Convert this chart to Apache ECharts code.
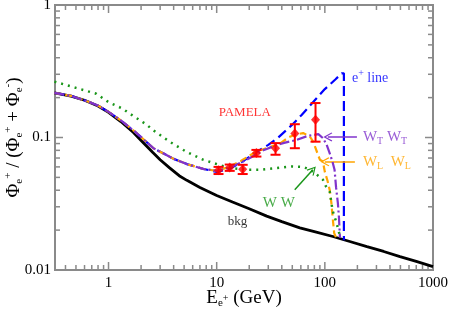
<!DOCTYPE html>
<html><head><meta charset="utf-8">
<script src="https://cdn.jsdelivr.net/npm/echarts@6/dist/echarts.min.js"></script>
<style>html,body{margin:0;padding:0;background:#fff}#c{width:450px;height:310px}</style>
</head><body><div id="c"></div>
<script>
// ---- data ----
const xMajor = [1, 10, 100, 1000];
const xMinor = [0.4,0.5,0.6,0.7,0.8,0.9,2,3,4,5,6,7,8,9,20,30,40,50,60,70,80,90,200,300,400,500,600,700,800,900];
const yMajor = [0.01, 0.1, 1];
const yMinor = [0.02,0.03,0.04,0.05,0.06,0.07,0.08,0.09,0.2,0.3,0.4,0.5,0.6,0.7,0.8,0.9];

const bkgE = [0.316,0.45,0.6,0.8,1.0,1.3,1.7,2.0,2.57,3.0,3.67,4.5,5.3,7,10,14,20,29,40,58.7,80,118.6,170,245,350,495,700,1000];
const bkgF = [0.217,0.205,0.191,0.173,0.155,0.132,0.109,0.095,0.077,0.068,0.059,0.0515,0.0475,0.042,0.0365,0.0326,0.0290,0.0255,0.0232,0.0208,0.0195,0.0179,0.0164,0.0150,0.0138,0.0126,0.0116,0.0106];

const lowE = [0.316,0.45,0.643,0.8,1.0,1.31,1.7,1.94,2.6,3.3,4,5.3,7.5];
const lowF = [0.217,0.206,0.187,0.174,0.156,0.134,0.113,0.103,0.083,0.075,0.069,0.063,0.058];

const blueE = [10,13.2,17.4,23.5,30,36.6,50,61,77,100,125,143,150,150];
const blueF = [0.055,0.058,0.066,0.078,0.088,0.099,0.125,0.148,0.183,0.232,0.274,0.305,0.305,0.0168];

const orangeE = [10,13,17,23,30,38.5,46,53,63,72.5,78,86,90,96,100,106,111,115,118,122,127];
const orangeF = [0.056,0.060,0.067,0.078,0.084,0.090,0.100,0.105,0.108,0.102,0.093,0.075,0.068,0.066,0.055,0.047,0.040,0.032,0.025,0.019,0.0176];

const purpleE = [10,13,17,23,27,35,42,55,70,87,96,104,111,118,123,127,132,135,138];
const purpleF = [0.056,0.059,0.065,0.074,0.080,0.087,0.091,0.096,0.103,0.106,0.099,0.088,0.076,0.065,0.057,0.042,0.032,0.025,0.0175];

const wwE = [0.316,0.5,0.77,1.0,1.35,1.56,2.25,2.57,3.67,5.25,7.5,10.6,13,20,25,30,50,63,70,81,96,102,111,118,128,138];
const wwF = [0.264,0.237,0.214,0.185,0.165,0.152,0.125,0.114,0.093,0.078,0.068,0.062,0.059,0.057,0.057,0.058,0.0605,0.060,0.058,0.054,0.048,0.043,0.039,0.028,0.0228,0.018];

const pamE  = [10.4,13.2,17.4,23.3,35,52.8,82];
const pamF  = [0.0565,0.0595,0.0575,0.0765,0.083,0.107,0.136];
const pamLo = [0.053,0.056,0.053,0.0718,0.0741,0.083,0.093];
const pamHi = [0.060,0.0625,0.0622,0.0806,0.0907,0.126,0.182];

// ---- styling ----
const FONT = 'Liberation Serif';
const AX = '#8a8a8a';
const XMIN = 0.32, XMAX = 1000, YMIN = 0.01, YMAX = 1;
const C = {blue:'#0000ff', orange:'#ffa500', purple:'#8033cc', green:'#1a961a', red:'#ff0000', black:'#000'};
const fmt = v => String(+(+v).toPrecision(3));

const xAxis = {type:'log', logBase:10, min:XMIN, max:XMAX, position:'bottom',
  axisLine:{show:false, onZero:false}, axisTick:{show:false},
  axisLabel:{show:true, customValues:xMajor, formatter:fmt, fontFamily:FONT, fontSize:15, color:'#000', margin:6},
  splitLine:{show:false}, minorTick:{show:false},
  name:'{E|E}{s|e}{u|+}{t| (GeV)}', nameLocation:'middle', nameGap:17, nameMoveOverlap:false,
  nameTextStyle:{fontFamily:FONT, color:'#000', rich:{
    E:{fontFamily:FONT, fontSize:19, lineHeight:22, verticalAlign:'middle'},
    s:{fontFamily:FONT, fontSize:11, lineHeight:10, verticalAlign:'bottom'},
    u:{fontFamily:FONT, fontSize:10, lineHeight:10, verticalAlign:'middle'},
    t:{fontFamily:FONT, fontSize:19, lineHeight:22, verticalAlign:'middle'}}}};
const yAxis = {type:'log', logBase:10, min:YMIN, max:YMAX, position:'left',
  axisLine:{show:false, onZero:false}, axisTick:{show:false},
  axisLabel:{show:true, customValues:yMajor, formatter:fmt, fontFamily:FONT, fontSize:15, color:'#000', margin:4},
  splitLine:{show:false}, minorTick:{show:false},
  name:'{p|Φ}{s|e}{u|+}{t| / (}{p|Φ}{s|e}{u|+}{t| + }{p|Φ}{s|e}{u|-}{t|)}',
  nameLocation:'middle', nameRotate:90, nameGap:30, nameMoveOverlap:false,
  nameTextStyle:{fontFamily:FONT, color:'#000', rich:{
    p:{fontFamily:FONT, fontSize:19, lineHeight:22, verticalAlign:'middle'},
    s:{fontFamily:FONT, fontSize:11, lineHeight:10, verticalAlign:'bottom'},
    u:{fontFamily:FONT, fontSize:11, lineHeight:10, verticalAlign:'top'},
    t:{fontFamily:FONT, fontSize:19, lineHeight:22, verticalAlign:'middle'}}}};

const zip = (a,b) => a.map((v,i)=>[v,b[i]]);
function line(name, data, color, width, dash, z) {
  return {type:'line', name, data, showSymbol:false, symbol:'none', smooth:false, z,
    lineStyle:{color, width, type:dash, cap:'butt'}, silent:true, animation:false};
}
const chev = 'path://M0,0L-8,10L-6.5,11L0,3L6.5,11L8,10Z';
const sub = {fontFamily:FONT, fontSize:10, lineHeight:8, verticalAlign:'bottom'};
const sup = {fontFamily:FONT, fontSize:10, lineHeight:8, verticalAlign:'top'};
function note(coord, text, color, size, pos) {
  return {value:coord, label:{show:true, position:pos, distance:0, formatter:text, color,
    fontFamily:FONT, fontSize:size,
    rich:{m:{fontFamily:FONT, fontSize:size, lineHeight:size+4, color, verticalAlign:'middle'}, b:Object.assign({color}, sub), a:Object.assign({color}, sup)}}};
}
const tickStyle = {stroke:AX, lineWidth:1.5};

const option = {
  animation:false,
  grid:{left:55, right:17, top:5, bottom:40, containLabel:false, outerBoundsMode:'none',
        show:true, borderColor:AX, borderWidth:2, backgroundColor:'transparent'},
  xAxis, yAxis,
  series:[
    {type:'custom', name:'xticks', clip:false, silent:true, z:1,
      data: xMajor.map(v=>[v, YMIN, 8]).concat(xMinor.map(v=>[v, YMIN, 5])),
      encode:{x:0, y:1},
      renderItem(params, api) {
        const v = api.value(0), len = api.value(2);
        const b = api.coord([v, YMIN]), t = api.coord([v, YMAX]);
        return {type:'group', children:[
          {type:'line', shape:{x1:b[0], y1:b[1], x2:b[0], y2:b[1]-len}, style:tickStyle},
          {type:'line', shape:{x1:t[0], y1:t[1], x2:t[0], y2:t[1]+len}, style:tickStyle}]};
      }},
    {type:'custom', name:'yticks', clip:false, silent:true, z:1,
      data: yMajor.map(v=>[XMIN, v, 8]).concat(yMinor.map(v=>[XMIN, v, 5])),
      encode:{x:0, y:1},
      renderItem(params, api) {
        const v = api.value(1), len = api.value(2);
        const l = api.coord([XMIN, v]), r = api.coord([XMAX, v]);
        return {type:'group', children:[
          {type:'line', shape:{x1:l[0], y1:l[1], x2:l[0]+len, y2:l[1]}, style:tickStyle},
          {type:'line', shape:{x1:r[0], y1:r[1], x2:r[0]-len, y2:r[1]}, style:tickStyle}]};
      }},
    line('bkg', zip(bkgE,bkgF), C.black, 2.8, 'solid', 2),
    line('eline', zip(lowE,lowF).concat(zip(blueE,blueF)), C.blue, 2.2, [10,5], 3),
    line('WLWL', zip(lowE,lowF).concat(zip(orangeE,orangeF)), C.orange, 2.2, [7,4], 4),
    line('WTWT', zip(lowE,lowF).concat(zip(purpleE,purpleF)), C.purple, 2.2, [10,3,2,3], 5),
    line('WW', zip(wwE,wwF), C.green, 2.5, [2,5], 6),
    {type:'custom', name:'pamErr', z:8, silent:true,
      data: pamE.map((e,i)=>[e, pamLo[i], pamHi[i]]),
      encode:{x:0, y:[1,2]},
      renderItem(params, api) {
        const x = api.value(0);
        const lo = api.coord([x, api.value(1)]);
        const hi = api.coord([x, api.value(2)]);
        const w = 5, st = {stroke:C.red, lineWidth:2};
        return {type:'group', children:[
          {type:'line', shape:{x1:lo[0], y1:lo[1], x2:hi[0], y2:hi[1]}, style:st},
          {type:'line', shape:{x1:lo[0]-w, y1:lo[1], x2:lo[0]+w, y2:lo[1]}, style:st},
          {type:'line', shape:{x1:hi[0]-w, y1:hi[1], x2:hi[0]+w, y2:hi[1]}, style:st}]};
      }},
    {type:'scatter', name:'PAMELA', z:9, silent:true,
      data: zip(pamE,pamF), symbol:'diamond', symbolSize:[9,10], itemStyle:{color:C.red}},
    {type:'scatter', name:'notes', z:10, silent:true, symbolSize:0,
      data:[
        note([18.2,0.1536], '{m|PAMELA}', C.red, 13, 'inside'),
        note([178,0.282], '{m|e}{a|+}{m| line}', C.blue, 14, 'right'),
        note([225,0.101], '{m|W}{b|T}{m| W}{b|T}', C.purple, 15, 'right'),
        note([225,0.0655], '{m|W}{b|L}{m|  W}{b|L}', C.orange, 15, 'right'),
        note([37.5,0.0321], '{m|W W}', C.green, 15, 'inside'),
        note([15.6,0.0231], '{m|bkg}', C.black, 13, 'inside')
      ],
      markLine:{silent:true, symbol:['none', chev], symbolSize:[9,9], label:{show:false}, animation:false,
        data:[
          [{coord:[198,0.101], lineStyle:{color:C.purple, width:1.5, type:'solid'}, itemStyle:{color:C.purple}}, {coord:[106.6,0.101]}],
          [{coord:[189.6,0.0655], lineStyle:{color:C.orange, width:1.5, type:'solid'}, itemStyle:{color:C.orange}}, {coord:[100,0.0655]}],
          [{coord:[52.7,0.0403], lineStyle:{color:C.green, width:1.5, type:'solid'}, itemStyle:{color:C.green}}, {coord:[77.4,0.057]}]
        ]}}
  ]
};
const chart = echarts.init(document.getElementById('c'), null, {renderer:'canvas'});
chart.setOption(option);
</script>
</body></html>
